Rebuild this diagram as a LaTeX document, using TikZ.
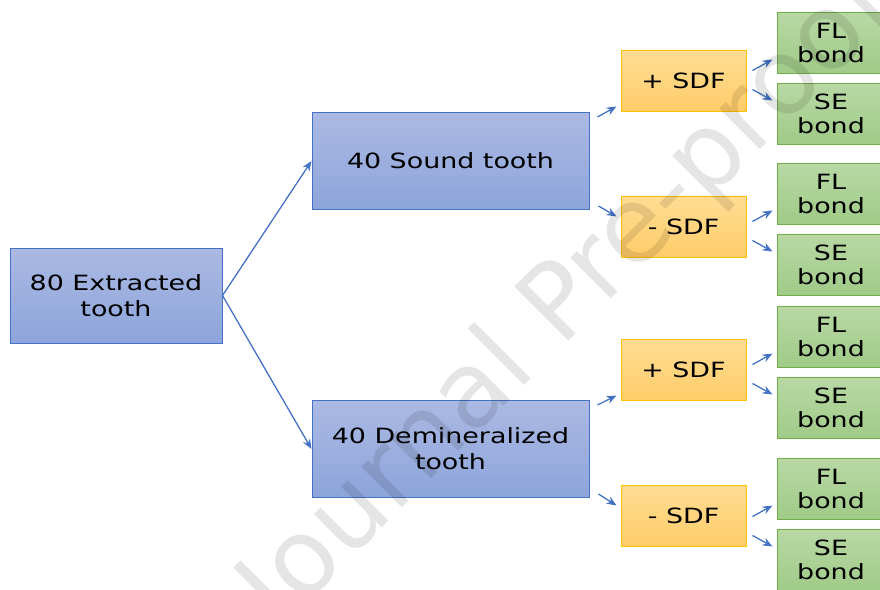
\documentclass[tikz,border=0pt]{standalone}
\usepackage{fontspec}
\setmainfont{DejaVu Sans}[FakeStretch=1.28]
\newfontfamily\markfont{DejaVu Sans}
\usetikzlibrary{arrows.meta,calc}

\definecolor{blueedge}{RGB}{68,114,196}
\definecolor{bluetop}{RGB}{171,185,227}
\definecolor{bluebot}{RGB}{141,165,219}
\definecolor{sdfedge}{RGB}{255,192,0}
\definecolor{sdftop}{RGB}{255,220,148}
\definecolor{sdfbot}{RGB}{255,205,105}
\definecolor{bondedge}{RGB}{112,173,71}
\definecolor{bondtop}{RGB}{184,216,164}
\definecolor{bondbot}{RGB}{160,203,136}

\begin{document}
\begin{tikzpicture}[x=1pt,y=-1pt,>={Stealth[length=10pt,width=8pt]},
  font=\fontsize{21}{26}\selectfont,
  box/.style={draw,line width=1pt,align=center,inner sep=0pt},
  bluebox/.style={box,draw=blueedge,top color=bluetop,bottom color=bluebot,minimum width=277pt,minimum height=97pt},
  sdfbox/.style={box,draw=sdfedge,top color=sdftop,bottom color=sdfbot,minimum width=125pt,minimum height=61pt},
  bondbox/.style={box,draw=bondedge,top color=bondtop,bottom color=bondbot,minimum width=108pt,minimum height=61pt,font=\fontsize{21}{24}\selectfont},
  link/.style={->,blueedge,line width=1.3pt}]
 \useasboundingbox (0,0) rectangle (880,589);
 % samples
 \node[bluebox,minimum width=212pt,minimum height=95pt] (all) at (116,295.5) {80 Extracted\\tooth};
 \node[bluebox] (sound) at (450.5,161) {40 Sound tooth};
 \node[bluebox] (demin) at (450.5,449) {40 Demineralized\\tooth};
 \draw[link] (all.east) -- (sound.west);
 \draw[link] (all.east) -- (demin.west);
 % SDF groups
 \foreach \n/\y/\t in {p1/80.5/+ SDF, m1/226.5/- SDF, p2/369.5/+ SDF, m2/515.5/- SDF}
   \node[sdfbox] (\n) at (683.5,\y) {\t};
 \foreach \b/\p/\m in {sound/p1/m1, demin/p2/m2} {
   \draw[link] ($(\b.north east)+(8,5)$) -- ($(\p.south west)+(-4,-5)$);
   \draw[link] ($(\b.south east)+(9,-4)$) -- ($(\m.north west)+(-4,21)$);}
 % bond tests
 \foreach \n/\y in {p1/42.5, m1/193.5, p2/336.5, m2/488.5} {
   \node[bondbox] (fl\n) at (831,\y) {FL\\bond};
   \node[bondbox] (se\n) at (831,\y+71) {SE\\bond};
   \draw[link] ($(fl\n.south west)+(-24,-3)$) -- ($(fl\n.south west)+(-4,-14)$);
   \draw[link] ($(se\n.north west)+(-24,7)$) -- ($(se\n.north west)+(-4,18)$);}
 % watermark
 \node[rotate=45,anchor=base,opacity=0.1,font=\markfont\fontsize{105}{105}\selectfont] (mark) at (590,320) {Journal Pre-proof};
\end{tikzpicture}
\end{document}
